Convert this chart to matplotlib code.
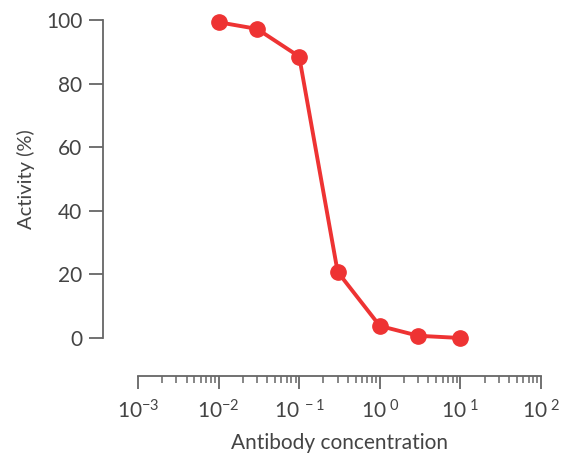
import matplotlib
matplotlib.use('Agg')
import matplotlib.pyplot as plt
from matplotlib.ticker import LogLocator, NullFormatter, FixedLocator

# data
conc = [0.01, 0.03, 0.1, 0.3, 1, 3, 10]
activity = [99.3, 97.2, 88.5, 20.8, 3.8, 0.7, 0.0]
x_ticks = [1e-3, 1e-2, 1e-1, 1e0, 1e1, 1e2]
x_labels = [r'$\mathregular{10^{-3}}$', r'$\mathregular{10^{-2}}$', r'$\mathregular{10^{\ -1}}$',
            r'$\mathregular{10^{\ 0}}$', r'$\mathregular{10^{\ 1}}$', r'$\mathregular{10^{\ 2}}$']
y_ticks = [0, 20, 40, 60, 80, 100]

plt.rcParams['font.family'] = ['Lato', 'DejaVu Sans']
plt.rcParams['font.weight'] = 'normal'
plt.rcParams['mathtext.fontset'] = 'custom'
plt.rcParams['mathtext.rm'] = 'Lato'
plt.rcParams['mathtext.it'] = 'Lato'

txt = '#444444'
spine = '#666666'
red = '#EE3333'

fig = plt.figure(figsize=(5.72, 4.55), dpi=100)
ax = fig.add_axes([138/572, (455-338)/455, (541-138)/572, (338-20)/455])

ax.plot(conc, activity, color=red, lw=2.8, marker='o', ms=11, zorder=3, clip_on=False)

ax.set_xscale('log')
ax.set_xlim(1e-3, 1e2)
ax.set_ylim(0, 100)

for s in ('top', 'right'):
    ax.spines[s].set_visible(False)
ax.spines['left'].set_position(('outward', 25))
ax.spines['bottom'].set_position(('outward', 27))
for s in ('left', 'bottom'):
    ax.spines[s].set_color(spine)
    ax.spines[s].set_linewidth(1.3)

ax.xaxis.set_major_locator(FixedLocator(x_ticks))
ax.set_xticklabels(x_labels)
ax.xaxis.set_minor_locator(LogLocator(base=10, subs=range(2, 10), numticks=20))
ax.xaxis.set_minor_formatter(NullFormatter())
ax.set_yticks(y_ticks)

ax.tick_params(axis='x', which='major', length=9, width=1.3, color=spine, labelcolor=txt, labelsize=15, pad=8)
ax.tick_params(axis='x', which='minor', length=5, width=1.1, color=spine)
ax.tick_params(axis='y', length=10, width=1.3, color=spine, labelcolor=txt, labelsize=15, pad=5)
for lab in ax.get_xticklabels() + ax.get_yticklabels():
    lab.set_fontweight('normal')
    lab.set_color(txt)

ax.set_xlabel('Antibody concentration', color=txt, fontsize=15, labelpad=8)
ax.set_ylabel('Activity (%)', color=txt, fontsize=14.5, labelpad=8)

fig.savefig('out.png', dpi=100)
